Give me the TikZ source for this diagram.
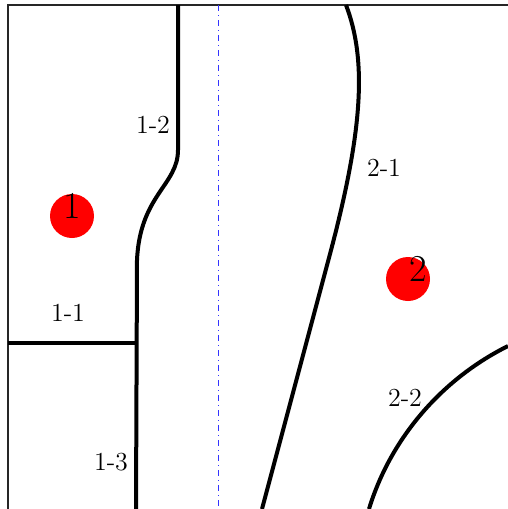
\documentclass[tikz,border=0pt]{standalone}
\usepackage{tikz}

\tikzset{
  bordo/.style={line width=1pt, black!85},
  confine/.style={line width=2pt, black},
  asse/.style={line width=0.5pt, blue!80, dash dot},
  zona/.style={font=\fontsize{13}{15}\selectfont, inner sep=1pt},
  sorgente/.style={circle, fill=red, minimum size=22pt, inner sep=0pt},
  numero/.style={font=\fontsize{19}{22}\selectfont, inner sep=0pt}
}

\begin{document}
\begin{tikzpicture}[x=0.5pt, y=-0.5pt]
        % Area del disegno
        \useasboundingbox (0,0) rectangle (508,509);

        % Bordo sinistro e superiore
        \draw[bordo] (8,509) -- (8,5) -- (508,5);

        % Asse di simmetria (tratto-punto)
        \draw[asse] (218,5) -- (218,509);

        % Confini della zona 1
        \draw[confine] (178,5) -- (178,150) .. controls (178,185) and (140,195) .. (137,260) -- (136,509);
        \draw[confine] (8,343) -- (136,343);

        % Confini della zona 2
        \draw[confine] (346,5) .. controls (367,60) and (363,130) .. (330,254) -- (262,509);
        \draw[confine] (508,346) .. controls (440,380) and (390,440) .. (369,509);

        % Sorgenti
        \node[sorgente] (s1) at (72,216) {};
        \node[sorgente] (s2) at (408,279) {};
        \node[numero] (n1) at (72,206) {1};
        \node[numero] (n2) at (418,269) {2};

        % Etichette delle zone
        \node[zona] (z12) at (153,125) {1-2};
        \node[zona] (z11) at (68,313) {1-1};
        \node[zona] (z13) at (111,462) {1-3};
        \node[zona] (z21) at (384,168) {2-1};
        \node[zona] (z22) at (405,398) {2-2};
    \end{tikzpicture}
\end{document}
